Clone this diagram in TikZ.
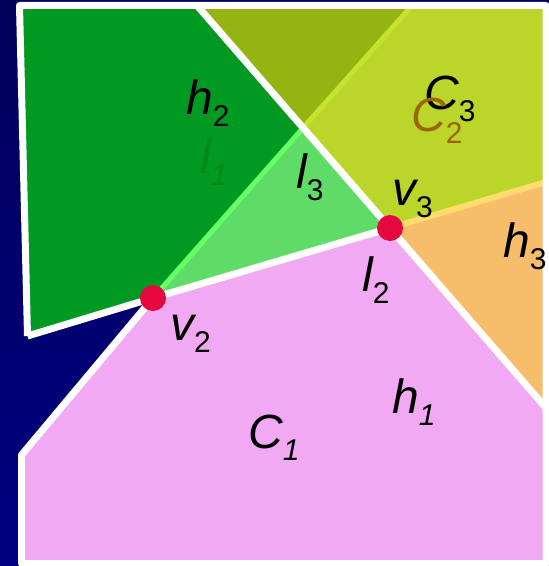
\documentclass[tikz,border=0pt]{standalone}
\usepackage{fontspec}
\setmainfont{Liberation Sans}
\usetikzlibrary{calc}
\usepackage{xcolor}
\definecolor{navyTop}{HTML}{00005A}
\definecolor{navyBot}{HTML}{000080}
\definecolor{cellDark}{HTML}{009922}
\definecolor{cellOlive}{HTML}{94B511}
\definecolor{cellLime}{HTML}{BBD52A}
\definecolor{cellMint}{HTML}{5EDC67}
\definecolor{cellOrange}{HTML}{F6BD6B}
\definecolor{cellPink}{HTML}{F0A9F2}
\definecolor{lineGreen}{HTML}{66FF66}
\definecolor{lineLime}{HTML}{C6E330}
\definecolor{lineYellow}{HTML}{FFDC6E}
\definecolor{dotcol}{HTML}{E6073E}
\definecolor{textGreen}{HTML}{00881A}
\definecolor{textBrown}{HTML}{996600}

% letter with a lowered, smaller index
\newcommand{\lab}[2]{#1\raisebox{-12bp}{\fontsize{30bp}{30bp}\selectfont\upshape #2}}

\begin{document}
\begin{tikzpicture}[
  x=1bp, y=-1bp,
  wline/.style={draw=white, line width=7bp, line join=round},
  cline/.style={line width=5bp},
  vdot/.style={circle, fill=dotcol, minimum size=26bp, inner sep=0pt},
  lbl/.style={anchor=base west, inner sep=0pt, font=\fontsize{48bp}{50bp}\selectfont\itshape}
]
\useasboundingbox (0,0) rectangle (549,566);
\shade[top color=navyTop, bottom color=navyBot] (0,0) rectangle (549,566);

% corners of the cells
\coordinate (v2) at (153,298);
\coordinate (v3) at (390,228);
\coordinate (p) at (303,128);
\coordinate (atop) at (197,5.5);
\coordinate (ctop) at (412,5.5);
\coordinate (tl) at (19.5,5.5);
\coordinate (tr) at (546,5.5);
\coordinate (bright) at (546,182);
\coordinate (aright) at (546,408);
\coordinate (br) at (546,563.5);
\coordinate (bl) at (21.5,563.5);
\coordinate (bend) at (21.5,455);
\coordinate (bleft) at (27.5,336);

% cells
\fill[cellDark] (tl) -- (atop) -- (p) -- (v2) -- (bleft) -- cycle;
\fill[cellOlive] (atop) -- (ctop) -- (p) -- cycle;
\fill[cellLime] (ctop) -- (tr) -- (bright) -- (v3) -- (p) -- cycle;
\fill[cellMint] (p) -- (v3) -- (v2) -- cycle;
\fill[cellOrange] (v3) -- (bright) -- (aright) -- cycle;
\fill[cellPink] (v2) -- (v3) -- (aright) -- (br) -- (bl) -- (bend) -- cycle;

% coloured lines
\draw[cline, lineGreen] (v2) -- (p);
\draw[cline, lineLime] (p) -- (ctop);
\draw[cline, line width=6bp, lineYellow] (v3) -- (bright);

% white lines
\draw[wline] (bleft) -- (tl) -- (tr) -- (br) -- (bl) -- (bend) -- (v2);
\draw[wline] (bleft) -- (v2) -- (v3);
\draw[wline] (atop) -- (aright);

% vertices
\node[vdot] (dot2) at (v2) {};
\node[vdot] (dot3) at (v3) {};

% labels
\foreach \nm/\px/\py/\base/\idx in {h2/186/115/h/2, c3/424/110/C/3, l3/296/188/l/3,
    v3l/392/205/v/3, h3/503/257/h/3, l2/362/291/l/2, v2l/170/340/v/2,
    c1/248/448/C/\itshape 1, h1/392/413/h/\itshape 1} {
  \node[lbl] (lab\nm) at (\px,\py) {\lab{\base}{\idx}};
}
\node[lbl, text=textGreen] (labl1) at (200,173) {\lab{l}{\itshape 1}};
\node[lbl, text=textBrown] (labc2) at (411,132) {\lab{C}{2}};
\end{tikzpicture}
\end{document}
